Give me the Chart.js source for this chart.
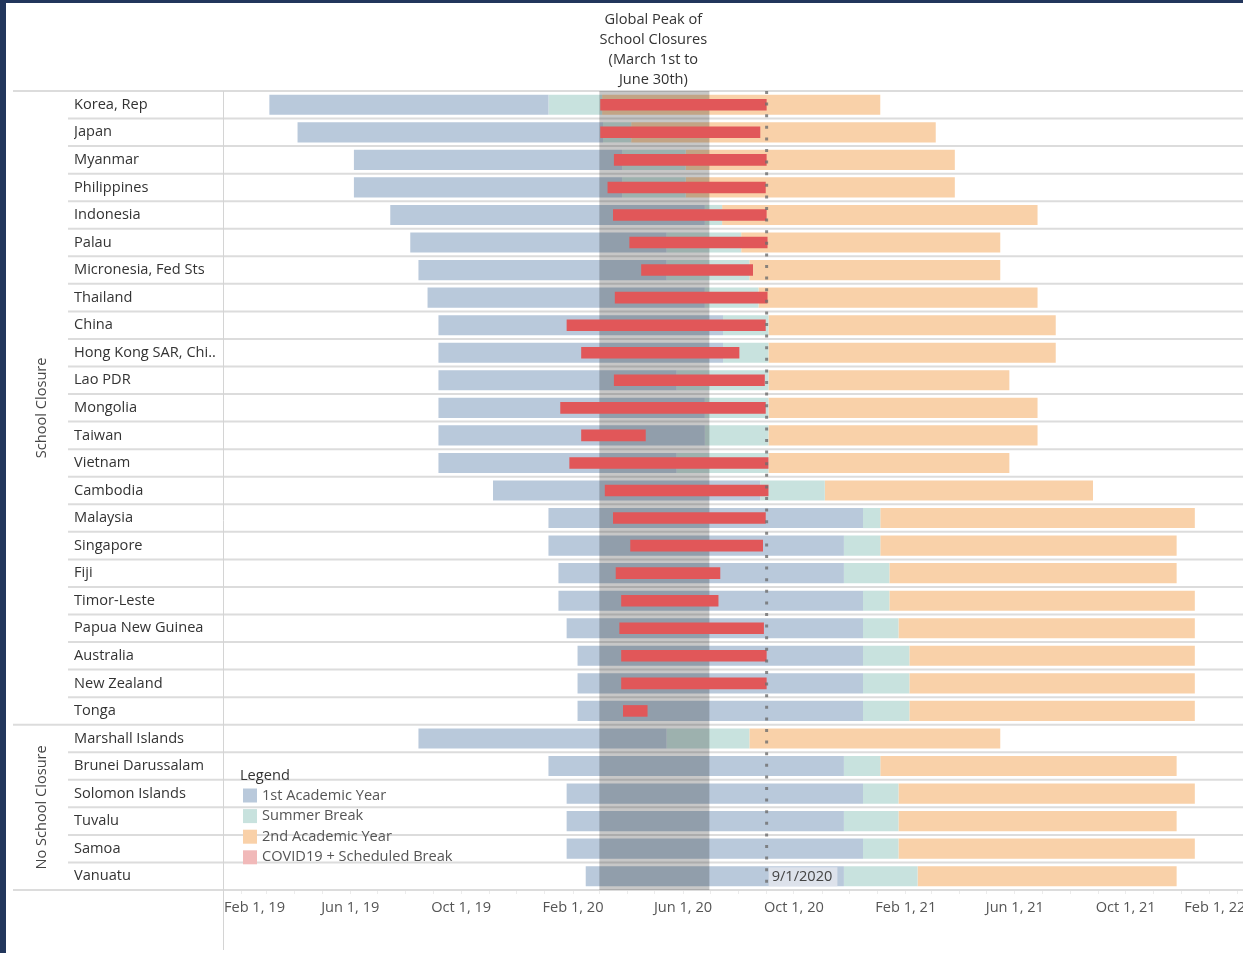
<!DOCTYPE html>
<html>
<head>
<meta charset="utf-8">
<title>School calendars and COVID-19 closures</title>
<script src="https://cdn.jsdelivr.net/npm/chart.js@4.4.1/dist/chart.umd.min.js"></script>
<style>
  html, body { margin: 0; padding: 0; background: #22365c; }
  canvas { display: block; }
</style>
</head>
<body>
<canvas id="chart" width="1243" height="953"></canvas>
<script>
// rows, top to bottom
const countries = ['Korea, Rep', 'Japan', 'Myanmar', 'Philippines', 'Indonesia', 'Palau',
  'Micronesia, Fed Sts', 'Thailand', 'China', 'Hong Kong SAR, Chi..', 'Lao PDR', 'Mongolia',
  'Taiwan', 'Vietnam', 'Cambodia', 'Malaysia', 'Singapore', 'Fiji', 'Timor-Leste',
  'Papua New Guinea', 'Australia', 'New Zealand', 'Tonga', 'Marshall Islands',
  'Brunei Darussalam', 'Solomon Islands', 'Tuvalu', 'Samoa', 'Vanuatu'];

const groupNames = ['School Closure', 'No School Closure'];
const groupSizes = [23, 6];

// 1st academic year -> summer break -> 2nd academic year
const yearOneStart = [
  '2019-03-04', '2019-04-04', '2019-06-05', '2019-06-05', '2019-07-15', '2019-08-06',
  '2019-08-15', '2019-08-25', '2019-09-06', '2019-09-06', '2019-09-06', '2019-09-06',
  '2019-09-06', '2019-09-06', '2019-11-05', '2020-01-05', '2020-01-05', '2020-01-16',
  '2020-01-16', '2020-01-25', '2020-02-06', '2020-02-06', '2020-02-06', '2019-08-15',
  '2020-01-05', '2020-01-25', '2020-01-25', '2020-01-25', '2020-02-15'];
const yearOneEnd = [
  '2020-01-05', '2020-03-05', '2020-03-26', '2020-03-26', '2020-06-25', '2020-05-14',
  '2020-05-14', '2020-06-25', '2020-07-15', '2020-07-15', '2020-05-25', '2020-06-25',
  '2020-06-25', '2020-05-25', '2020-08-25', '2020-12-16', '2020-11-25', '2020-11-25',
  '2020-12-16', '2020-12-16', '2020-12-16', '2020-12-16', '2020-12-16', '2020-05-14',
  '2020-11-25', '2020-12-16', '2020-11-25', '2020-12-16', '2020-11-25'];
const breakEnd = [
  '2020-03-04', '2020-04-05', '2020-06-04', '2020-06-04', '2020-07-14', '2020-08-04',
  '2020-08-13', '2020-08-23', '2020-09-03', '2020-09-03', '2020-09-03', '2020-09-03',
  '2020-09-03', '2020-09-03', '2020-11-04', '2021-01-04', '2021-01-04', '2021-01-14',
  '2021-01-14', '2021-01-24', '2021-02-05', '2021-02-05', '2021-02-05', '2020-08-13',
  '2021-01-04', '2021-01-24', '2021-01-24', '2021-01-24', '2021-02-14'];
const yearTwoEnd = [
  '2021-01-04', '2021-03-06', '2021-03-27', '2021-03-27', '2021-06-26', '2021-05-16',
  '2021-05-16', '2021-06-26', '2021-07-16', '2021-07-16', '2021-05-26', '2021-06-26',
  '2021-06-26', '2021-05-26', '2021-08-26', '2021-12-16', '2021-11-26', '2021-11-26',
  '2021-12-16', '2021-12-16', '2021-12-16', '2021-12-16', '2021-12-16', '2021-05-16',
  '2021-11-26', '2021-12-16', '2021-11-26', '2021-12-16', '2021-11-26'];

// COVID19 closure + scheduled break
const closureStart = [
  '2020-03-02', '2020-03-02', '2020-03-17', '2020-03-10', '2020-03-16', '2020-04-03',
  '2020-04-16', '2020-03-18', '2020-01-25', '2020-02-10', '2020-03-17', '2020-01-18',
  '2020-02-10', '2020-01-28', '2020-03-07', '2020-03-16', '2020-04-04', '2020-03-19',
  '2020-03-25', '2020-03-23', '2020-03-25', '2020-03-25', '2020-03-27',
  null, null, null, null, null, null];
const closureEnd = [
  '2020-09-01', '2020-08-25', '2020-09-01', '2020-08-31', '2020-09-01', '2020-09-02',
  '2020-08-17', '2020-09-02', '2020-08-31', '2020-08-02', '2020-08-30', '2020-08-31',
  '2020-04-21', '2020-09-03', '2020-09-03', '2020-08-31', '2020-08-28', '2020-07-12',
  '2020-07-10', '2020-08-29', '2020-09-01', '2020-09-01', '2020-04-23',
  null, null, null, null, null, null];

const peakStart = '2020-03-01';
const peakEnd = '2020-06-30';
const peakTitle = ['Global Peak of', 'School Closures', '(March 1st to', 'June 30th)'];
const markerDate = '2020-09-01';
const markerLabel = '9/1/2020';

const axisStart = '2019-01-12';
const axisEnd = '2022-02-07';
const tickDates = ['2019-02-01', '2019-06-01', '2019-10-01', '2020-02-01', '2020-06-01',
  '2020-10-01', '2021-02-01', '2021-06-01', '2021-10-01', '2022-02-01'];
const tickLabels = ['Feb 1, 19', 'Jun 1, 19', 'Oct 1, 19', 'Feb 1, 20', 'Jun 1, 20',
  'Oct 1, 20', 'Feb 1, 21', 'Jun 1, 21', 'Oct 1, 21', 'Feb 1, 22'];

const BLUE = '#b9c9db';
const TEAL = '#c8e2de';
const ORANGE = '#f9d1a9';
const RED = '#e15759';
const PINK = '#f1b9b9';
const FONT = '"Open Sans", "DejaVu Sans", sans-serif';
const SIZE = 14.6;

function day(s) {
  const p = s.split('-').map(Number);
  return Date.UTC(p[0], p[1] - 1, p[2]) / 864e5;
}
function span(a, b) {
  return a.map((s, i) => (s && b[i]) ? [day(s), day(b[i])] : null);
}

// one minor tick per month, labels only on the listed dates
const monthTicks = [];
for (let y = 2019; y <= 2022; y++) {
  for (let m = 0; m < 12; m++) {
    const v = Date.UTC(y, m, 1) / 864e5;
    if (v >= day(axisStart) && v <= day(axisEnd)) monthTicks.push(v);
  }
}
const labelDays = tickDates.map(day);

const legendItems = [
  ['1st Academic Year', BLUE],
  ['Summer Break', TEAL],
  ['2nd Academic Year', ORANGE],
  ['COVID19 + Scheduled Break', PINK]
];

const decor = {
  id: 'decor',
  beforeDraw(chart) {
    const ctx = chart.ctx;
    ctx.save();
    ctx.fillStyle = '#22365c';
    ctx.fillRect(0, 0, chart.width, chart.height);
    ctx.fillStyle = '#ffffff';
    ctx.fillRect(6, 3, chart.width - 6, chart.height - 3);
    ctx.restore();
  },
  beforeDatasetsDraw(chart) {
    const { ctx, chartArea: a, scales: { y } } = chart;
    const step = y.getPixelForValue(1) - y.getPixelForValue(0);
    const fullRows = [0];
    let acc = 0;
    groupSizes.forEach(n => { acc += n; fullRows.push(acc); });
    ctx.save();
    ctx.strokeStyle = '#dcdcdc';
    ctx.lineWidth = 2;
    for (let i = 0; i <= countries.length; i++) {
      const py = y.getPixelForValue(i) - step / 2;
      ctx.beginPath();
      ctx.moveTo(fullRows.includes(i) ? 13 : 68, py);
      ctx.lineTo(a.right, py);
      ctx.stroke();
    }
    ctx.lineWidth = 1;
    ctx.strokeStyle = '#d4d4d4';
    ctx.beginPath();
    ctx.moveTo(a.left + 0.5, a.top);
    ctx.lineTo(a.left + 0.5, 950);
    ctx.stroke();
    ctx.restore();
  },
  beforeDatasetDraw(chart, args) {
    // peak band sits over the calendar bars, under the closure bars
    if (args.index !== 0) return;
    const { ctx, chartArea: a, scales: { x } } = chart;
    const x0 = x.getPixelForValue(day(peakStart));
    const x1 = x.getPixelForValue(day(peakEnd));
    ctx.save();
    ctx.fillStyle = 'rgba(20, 20, 20, 0.24)';
    ctx.fillRect(x0, a.top, x1 - x0, a.bottom - a.top);
    ctx.restore();
  },
  afterDatasetsDraw(chart) {
    const { ctx, chartArea: a, scales: { x, y } } = chart;
    ctx.save();

    // dotted marker line
    const mx = x.getPixelForValue(day(markerDate));
    ctx.strokeStyle = 'rgba(110, 110, 110, 0.8)';
    ctx.lineWidth = 3;
    ctx.setLineDash([3, 8.6]);
    ctx.beginPath();
    ctx.moveTo(mx, a.top);
    ctx.lineTo(mx, a.bottom);
    ctx.stroke();
    ctx.setLineDash([]);

    ctx.font = SIZE + 'px ' + FONT;
    ctx.textBaseline = 'middle';

    // marker label on the last row
    const ly = y.getPixelForValue(countries.length - 1);
    const lw = ctx.measureText(markerLabel).width + 8;
    ctx.fillStyle = 'rgba(222, 228, 236, 0.95)';
    ctx.fillRect(mx + 2, ly - 9, lw, 19);
    ctx.fillStyle = '#444';
    ctx.textAlign = 'left';
    ctx.fillText(markerLabel, mx + 5, ly + 1);

    // header over the peak band
    const cx = (x.getPixelForValue(day(peakStart)) + x.getPixelForValue(day(peakEnd))) / 2;
    ctx.textAlign = 'center';
    ctx.fillStyle = '#333';
    peakTitle.forEach((t, i) => ctx.fillText(t, cx - 1, 19.5 + i * 20));

    // group labels, rotated
    const step = y.getPixelForValue(1) - y.getPixelForValue(0);
    let first = 0;
    ctx.fillStyle = '#444';
    groupNames.forEach((g, i) => {
      const top = y.getPixelForValue(first) - step / 2;
      const bottom = y.getPixelForValue(first + groupSizes[i] - 1) + step / 2;
      ctx.save();
      ctx.translate(42, (top + bottom) / 2);
      ctx.rotate(-Math.PI / 2);
      ctx.fillText(g, 0, 0);
      ctx.restore();
      first += groupSizes[i];
    });

    // legend
    ctx.textAlign = 'left';
    ctx.fillStyle = '#333';
    ctx.fillText('Legend', 240, 775.5);
    legendItems.forEach((it, i) => {
      const iy = 795.5 + i * 20.6;
      ctx.fillStyle = it[1];
      ctx.fillRect(243, iy - 7, 14, 14);
      ctx.fillStyle = '#555';
      ctx.fillText(it[0], 262, iy);
    });
    ctx.restore();
  }
};

const barBase = { grouped: false, categoryPercentage: 1, borderWidth: 0 };

new Chart(document.getElementById('chart'), {
  type: 'bar',
  data: {
    labels: countries,
    datasets: [
      Object.assign({ label: 'COVID19 + Scheduled Break', data: span(closureStart, closureEnd),
        backgroundColor: RED, barPercentage: 0.42, order: 0 }, barBase),
      Object.assign({ label: '1st Academic Year', data: span(yearOneStart, yearOneEnd),
        backgroundColor: BLUE, barPercentage: 0.73, order: 1 }, barBase),
      Object.assign({ label: 'Summer Break', data: span(yearOneEnd, breakEnd),
        backgroundColor: TEAL, barPercentage: 0.73, order: 1 }, barBase),
      Object.assign({ label: '2nd Academic Year', data: span(breakEnd, yearTwoEnd),
        backgroundColor: ORANGE, barPercentage: 0.73, order: 1 }, barBase)
    ]
  },
  options: {
    indexAxis: 'y',
    responsive: false,
    animation: false,
    devicePixelRatio: 1,
    layout: { padding: { left: 74, top: 91, right: 0, bottom: 0 } },
    plugins: { legend: { display: false }, tooltip: { enabled: false } },
    scales: {
      x: {
        type: 'linear',
        position: 'bottom',
        min: day(axisStart),
        max: day(axisEnd),
        grid: { drawOnChartArea: false, drawTicks: true, tickLength: 4, color: '#ececec' },
        border: { display: false },
        ticks: {
          autoSkip: false,
          maxRotation: 0,
          padding: 5,
          color: '#555',
          font: { family: FONT, size: SIZE },
          callback: function (v) {
            const k = labelDays.indexOf(v);
            if (k < 0) return '';
            // keep the edge labels inside the frame, as the original does
            if (k === 0) return '       ' + tickLabels[k];
            if (k === tickLabels.length - 1) return tickLabels[k] + '            ';
            return tickLabels[k];
          }
        },
        afterBuildTicks: function (s) { s.ticks = monthTicks.map(v => ({ value: v })); },
        afterFit: function (s) { s.height = 63; s.paddingLeft = 0; s.paddingRight = 0; }
      },
      y: {
        type: 'category',
        grid: { display: false },
        border: { display: false },
        ticks: {
          autoSkip: false,
          crossAlign: 'far',
          color: '#333',
          font: { family: FONT, size: SIZE }
        },
        afterFit: function (s) { s.width = 149; s.paddingTop = 0; s.paddingBottom = 0; }
      }
    }
  },
  plugins: [decor]
});
</script>
</body>
</html>
